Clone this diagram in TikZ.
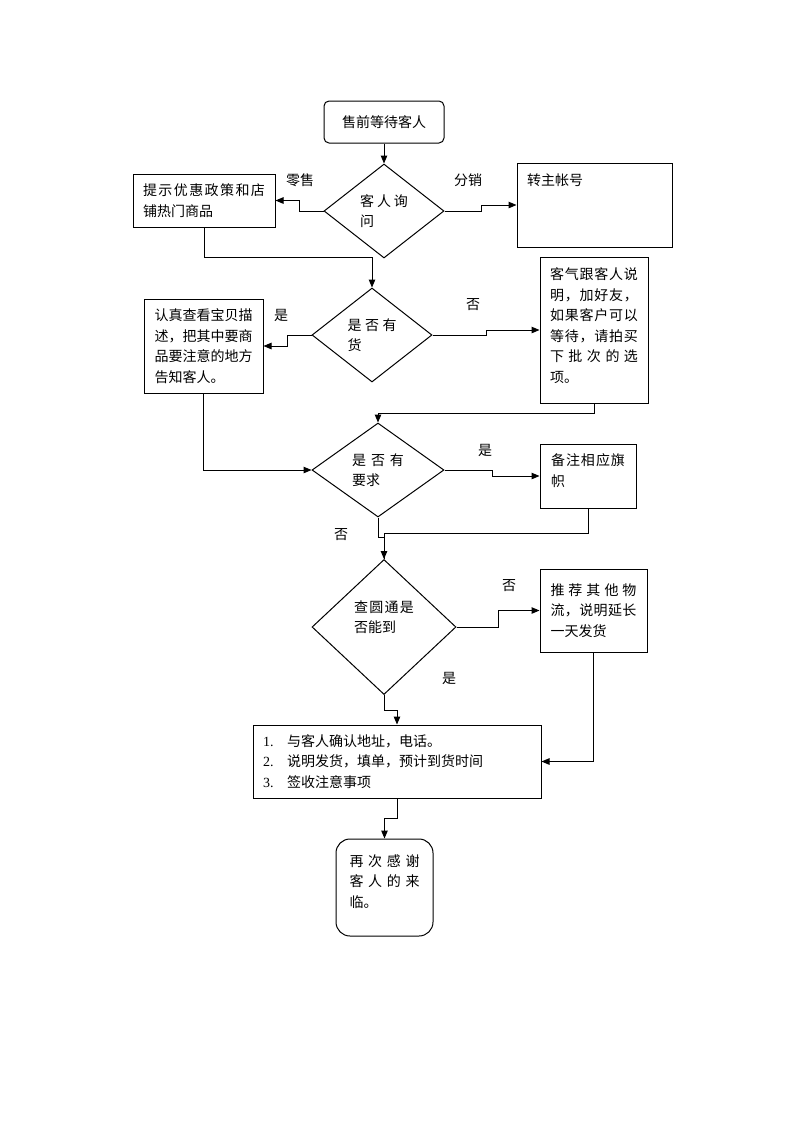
\documentclass[tikz,border=0pt]{standalone}
\usepackage{fontspec}
\setmainfont{Noto Sans CJK SC}
\newfontfamily\latf{Liberation Serif}
\usetikzlibrary{arrows.meta,shapes.geometric}
\def\mysprd#1{\mysprdA#1\relax}
\def\mysprdA#1{#1\mysprdB}
\def\mysprdB#1{\ifx\relax#1\else\hfill#1\expandafter\mysprdB\fi}
\newcommand\jline[2]{\leavevmode\hbox to #1pt{\mysprd{#2}}}
\tikzset{
  txt/.style={font=\fontsize{14}{20.5}\selectfont},
  box/.style={draw, line width=1pt, inner sep=0pt, align=left, txt},
  rbox/.style={box, rounded corners=5pt},
  dia/.style={draw, diamond, line width=1pt, inner sep=0pt, align=left, txt},
  lbl/.style={inner sep=0pt, txt},
  conn/.style={line width=1pt},
  arr/.style={conn, -{Triangle[length=8pt,width=6.5pt]}}
}
\begin{document}
\begin{tikzpicture}[x=1pt,y=-1pt]
\path[use as bounding box] (0,0) rectangle (793,1122);
\fill[white] (0,0) rectangle (793,1122);

\node[rbox, minimum width=120pt, minimum height=42pt] (s) at (384,122) {售前等待客人};
\node[dia, minimum width=120pt, minimum height=94pt] (d1) at (384,211) {\jline{48}{客人询}\\问};
\node[box, minimum width=142pt, minimum height=53pt] (b1) at (204,200.5) {\jline{122}{提示优惠政策和店}\\铺热门商品};
\node[box, minimum width=155pt, minimum height=84pt] (b2) at (594.5,205) {\parbox[t][62pt][t]{135pt}{转主帐号}};

\node[dia, minimum width=120pt, minimum height=94pt] (d2) at (372,335) {\jline{49}{是否有}\\货};
\node[box, minimum width=119pt, minimum height=94pt] (b3) at (203.5,346) {认真查看宝贝描\\述，把其中要商\\品要注意的地方\\告知客人。};
\node[box, minimum width=108pt, minimum height=146pt] (b4) at (594,330)
  {\parbox[t][124pt][t]{88pt}{\jline{88}{客气跟客人说}\\\jline{88}{明，加好友，}\\\jline{88}{如果客户可以}\\\jline{88}{等待，请拍买}\\\jline{88}{下批次的选}\\项。}};

\node[dia, minimum width=132pt, minimum height=94pt] (d3) at (378,470) {\jline{52}{是否有}\\要求};
\node[box, minimum width=96pt, minimum height=64pt] (b5) at (588,476)
  {\parbox[t][44pt][t]{74pt}{\jline{74}{备注相应旗}\\帜}};

\node[dia, minimum width=144pt, minimum height=135pt] (d4) at (384,627) {\jline{60}{查圆通是}\\否能到\\~};
\node[box, minimum width=107pt, minimum height=83pt] (b6) at (593.5,610.5) {\jline{86}{推荐其他物}\\\jline{86}{流，说明延长}\\一天发货};

\node[box, minimum width=288pt, minimum height=73pt, text width=268pt] (b7) at (397,761.5)
  {\makebox[24pt][l]{\latf 1.}与客人确认地址，电话。\\
   \makebox[24pt][l]{\latf 2.}说明发货，填单，预计到货时间\\
   \makebox[24pt][l]{\latf 3.}签收注意事项};
\node[box, rounded corners=14pt, minimum width=97pt, minimum height=97pt] (e) at (384.5,887.5)
  {\parbox[t][66pt][t]{70pt}{\jline{70}{再次感谢}\\\jline{70}{客人的来}\\临。}};

\node[lbl] (l1) at (300,180) {零售};
\node[lbl] (l2) at (468,180) {分销};
\node[lbl] (l3) at (281,315) {是};
\node[lbl] (l4) at (473,305) {否};
\node[lbl] (l5) at (485,450) {是};
\node[lbl] (l6) at (341,535) {否};
\node[lbl] (l7) at (509,586) {否};
\node[lbl] (l8) at (449,678) {是};

\draw[arr] (s.south) -- (d1.north);
\draw[arr] (d1.west) -- ++(-24,0) |- (b1.east);
\draw[arr] (d1.east) -- ++(37,0) |- (b2.west);
\draw[arr] (b1.south) -- ++(0,30) -| (d2.north);
\draw[arr] (d2.west) -- ++(-24,0) |- (b3.east);
\draw[arr] (d2.east) -- ++(54,0) |- (b4.west);
\draw[arr] (b3.south) |- (d3.west);
\draw[arr] (b4.south) -- ++(0,10) -| (d3.north);
\draw[arr] (d3.east) -- ++(48,0) |- (b5.west);
\draw[conn] (b5.south) -- ++(0,25) -| (d4.north);
\draw[arr] (d3.south) -- ++(0,20) -| (d4.north);
\draw[arr] (d4.east) -- ++(42,0) |- (b6.west);
\draw[arr] (d4.south) -- ++(0,15) -| (b7.north);
\draw[arr] (b6.south) |- (b7.east);
\draw[arr] (b7.south) -- ++(0,20) -| (e.north);
\end{tikzpicture}
\end{document}
